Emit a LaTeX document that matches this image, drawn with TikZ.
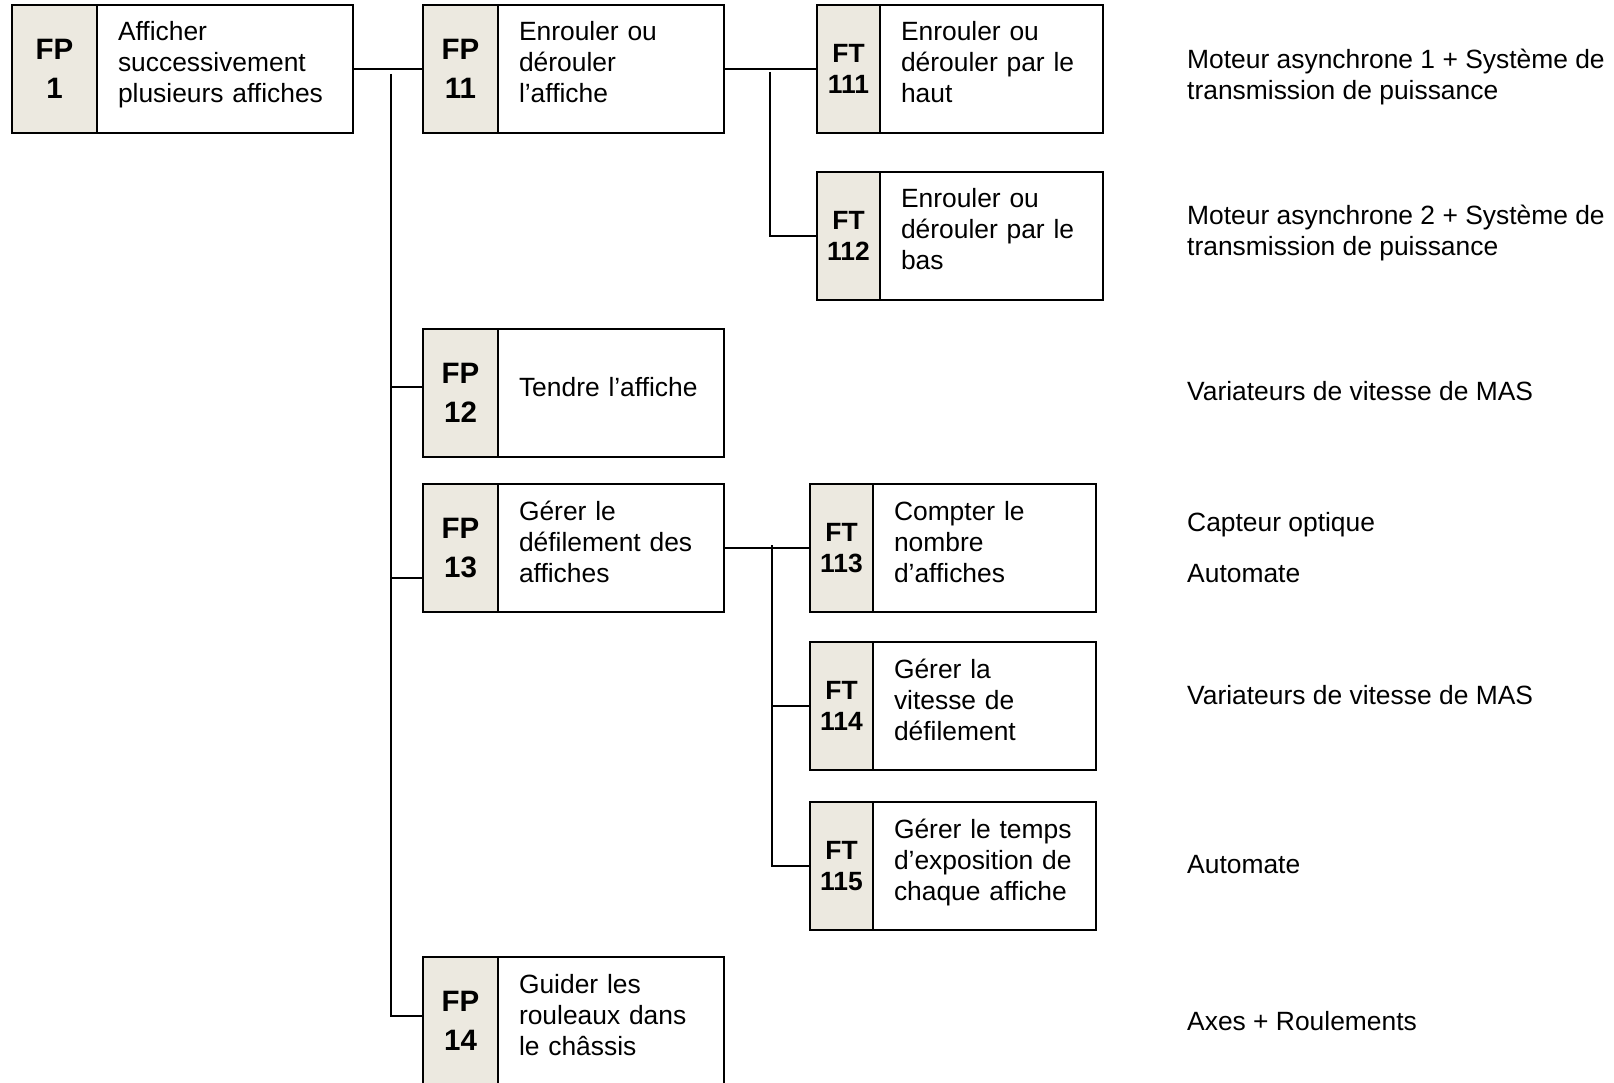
\documentclass[tikz,border=0pt]{standalone}
\usepackage{fontspec}
\setmainfont{Liberation Sans}
\usetikzlibrary{positioning}
\definecolor{fgris}{RGB}{236,233,224}

\begin{document}
\begin{tikzpicture}[x=1pt, y=-1pt,
  code/.style={draw, fill=fgris, line width=1.8pt, anchor=north west, minimum height=128pt,
               inner sep=0pt, outer sep=0pt, align=center, font=\fontsize{29.5}{39}\selectfont\bfseries},
  codeft/.style={code, minimum width=63pt, font=\fontsize{26.4}{31.5}\selectfont\bfseries},
  lib/.style={draw, line width=1.8pt, minimum height=128pt, inner xsep=21pt, inner ysep=0pt, outer sep=0pt,
              align=left, text height=36pt, text depth=92pt, font=\fontsize{26.4}{31}\selectfont},
  libfp/.style={lib, minimum width=226pt, text width=184pt},
  libft/.style={lib, minimum width=223pt, text width=181pt},
  solu/.style={anchor=base west, align=left, inner sep=0pt, font=\fontsize{26.4}{31}\selectfont},
  lien/.style={line width=1.8pt}
]
\useasboundingbox (0,0) rectangle (1614,1083);

\node[code, minimum width=85pt] (fp1c) at (12,5) {FP\\1};
\node[lib, minimum width=256pt, text width=214pt, right=0pt of fp1c] (fp1) {Afficher\\successivement\\plusieurs affiches};

\node[code, minimum width=75pt] (fp11c) at (423,5) {FP\\11};
\node[libfp, right=0pt of fp11c] (fp11) {Enrouler ou\\dérouler\\l’affiche};
\node[code, minimum width=75pt] (fp12c) at (423,329) {FP\\12};
\node[libfp, text height=67pt, text depth=61pt, right=0pt of fp12c] (fp12) {Tendre l’affiche};
\node[code, minimum width=75pt] (fp13c) at (423,484) {FP\\13};
\node[libfp, right=0pt of fp13c] (fp13) {Gérer le\\défilement des\\affiches};
\node[code, minimum width=75pt] (fp14c) at (423,957) {FP\\14};
\node[libfp, right=0pt of fp14c] (fp14) {Guider les\\rouleaux dans\\le châssis};

\node[codeft] (ft111c) at (817,5) {FT\\111};
\node[libft, right=0pt of ft111c] (ft111) {Enrouler ou\\dérouler par le\\haut};
\node[codeft] (ft112c) at (817,172) {FT\\112};
\node[libft, right=0pt of ft112c] (ft112) {Enrouler ou\\dérouler par le\\bas};
\node[codeft] (ft113c) at (810,484) {FT\\113};
\node[libft, minimum width=222pt, right=0pt of ft113c] (ft113) {Compter le\\nombre\\d’affiches};
\node[codeft] (ft114c) at (810,642) {FT\\114};
\node[libft, minimum width=222pt, right=0pt of ft114c] (ft114) {Gérer la\\vitesse de\\défilement};
\node[codeft] (ft115c) at (810,802) {FT\\115};
\node[libft, minimum width=222pt, right=0pt of ft115c] (ft115) {Gérer le temps\\d’exposition de\\chaque affiche};

\node[solu] (s111) at (1187,100) {Moteur asynchrone 1 + Système de\\transmission de puissance};
\node[solu] (s112) at (1187,256) {Moteur asynchrone 2 + Système de\\transmission de puissance};
\node[solu] (s12) at (1187,400) {Variateurs de vitesse de MAS};
\node[solu] (s113a) at (1187,531) {Capteur optique};
\node[solu] (s113b) at (1187,582) {Automate};
\node[solu] (s114) at (1187,704) {Variateurs de vitesse de MAS};
\node[solu] (s115) at (1187,873) {Automate};
\node[solu] (s14) at (1187,1030) {Axes + Roulements};

\draw[lien] (fp1.east) -- (fp11c.west);
\coordinate (tronc) at (391,74);
\coordinate (t12) at (391,387);
\coordinate (t13) at (391,578);
\coordinate (t14) at (391,1016);
\draw[lien] (tronc) -- (t14) -- (t14 -| fp14c.west);
\draw[lien] (t12) -- (t12 -| fp12c.west);
\draw[lien] (t13) -- (t13 -| fp13c.west);

\draw[lien] (fp11.east) -- (ft111c.west);
\coordinate (b11) at (770,72);
\draw[lien] (b11) |- (ft112c.west);

\draw[lien] (fp13.east) -- (ft113c.west);
\coordinate (b13) at (772,545);
\draw[lien] (b13) |- (ft115c.west);
\draw[lien] (b13 |- ft114c.west) -- (ft114c.west);
\end{tikzpicture}
\end{document}
